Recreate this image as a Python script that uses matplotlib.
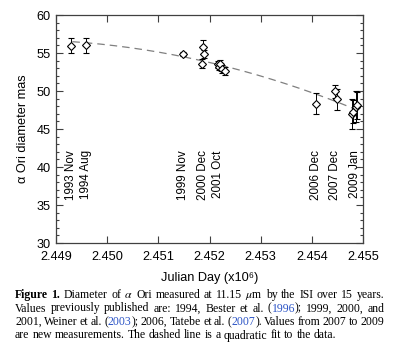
import numpy as np
import matplotlib
matplotlib.use('Agg')
import matplotlib.pyplot as plt
from matplotlib.ticker import MultipleLocator

# measured diameters (Julian day / 1e6, mas, error)
jd = [2.449287, 2.449580, 2.451486,
      2.451858, 2.451877, 2.451897,
      2.452160, 2.452190, 2.452210, 2.452250, 2.452300,
      2.454072, 2.454449, 2.454500,
      2.454781, 2.454810, 2.454866, 2.454880]
diam = [55.96, 56.00, 54.87,
        53.60, 55.75, 54.85,
        53.50, 53.20, 53.60, 52.90, 52.65,
        48.33, 49.96, 48.90,
        47.00, 47.30, 47.95, 48.10]
err = [0.95, 0.95, 0.20,
       0.60, 0.90, 0.50,
       0.50, 0.50, 0.50, 0.50, 0.50,
       1.40, 0.85, 1.40,
       2.00, 1.50, 2.00, 1.80]

# quadratic fit: d = a + b*t + c*t^2, t = (jd - 2.449)*1e3
fit_coef = [56.62, -0.339, -0.2056]
fit_range = [0.32, 5.85]

epoch_jd = [2.449287, 2.449580, 2.451486, 2.451877, 2.452170,
            2.454072, 2.454460, 2.454840]
epoch_lab = ['1993 Nov', '1994 Aug', '1999 Nov', '2000 Dec', '2001 Oct',
             '2006 Dec', '2007 Dec', '2009 Jan']

xticks = [2.449, 2.450, 2.451, 2.452, 2.453, 2.454, 2.455]

blue = '#2d55c6'
caption = [
    [[('Figure', 'bold', 'k')], [('1.', 'bold', 'k')], [('Diameter', 'normal', 'k')],
     [('of', 'normal', 'k')], [(r'$\alpha$', 'normal', 'k')], [('Ori', 'normal', 'k')],
     [('measured', 'normal', 'k')], [('at', 'normal', 'k')], [('11.15', 'normal', 'k')],
     [(r'$\mu$m', 'normal', 'k')], [('by', 'normal', 'k')], [('the', 'normal', 'k')],
     [('ISI', 'normal', 'k')], [('over', 'normal', 'k')], [('15', 'normal', 'k')],
     [('years.', 'normal', 'k')]],
    [[('Values', 'normal', 'k')], [('previously', 'normal', 'k')], [('published', 'normal', 'k')],
     [('are:', 'normal', 'k')], [('1994,', 'normal', 'k')], [('Bester', 'normal', 'k')],
     [('et', 'normal', 'k')], [('al.', 'normal', 'k')],
     [('(', 'normal', 'k'), ('1996', 'normal', blue), (');', 'normal', 'k')],
     [('1999,', 'normal', 'k')], [('2000,', 'normal', 'k')], [('and', 'normal', 'k')]],
    [[('2001,', 'normal', 'k')], [('Weiner', 'normal', 'k')], [('et', 'normal', 'k')],
     [('al.', 'normal', 'k')],
     [('(', 'normal', 'k'), ('2003', 'normal', blue), (');', 'normal', 'k')],
     [('2006,', 'normal', 'k')], [('Tatebe', 'normal', 'k')], [('et', 'normal', 'k')],
     [('al.', 'normal', 'k')],
     [('(', 'normal', 'k'), ('2007', 'normal', blue), (').', 'normal', 'k')],
     [('Values', 'normal', 'k')], [('from', 'normal', 'k')], [('2007', 'normal', 'k')],
     [('to', 'normal', 'k')], [('2009', 'normal', 'k')]],
    [[('are', 'normal', 'k')], [('new', 'normal', 'k')], [('measurements.', 'normal', 'k')],
     [('The', 'normal', 'k')], [('dashed', 'normal', 'k')], [('line', 'normal', 'k')],
     [('is', 'normal', 'k')], [('a', 'normal', 'k')], [('quadratic', 'normal', 'k')],
     [('fit', 'normal', 'k')], [('to', 'normal', 'k')], [('the', 'normal', 'k')],
     [('data.', 'normal', 'k')]],
]

plt.rcParams['font.family'] = 'Liberation Sans'
plt.rcParams['mathtext.fontset'] = 'stix'

W, H = 400, 354
fig = plt.figure(figsize=(4.0, 3.54), dpi=100)
ax = fig.add_axes([56/W, 1-243/H, (363-56)/W, (243-15)/H])

spine_col = '#404040'
ax.errorbar(jd, diam, yerr=err, fmt='D', ms=3.8, mfc='white', mec='k', mew=0.8,
            ecolor='k', elinewidth=0.7, capsize=2.0, capthick=0.7, zorder=3)

t = np.linspace(fit_range[0], fit_range[1], 200)
fit = fit_coef[0] + fit_coef[1]*t + fit_coef[2]*t**2
ax.plot(2.449 + t/1000.0, fit, ls=(0, (6, 4)), color='#808080', lw=0.9, zorder=2)

for xj, lab in zip(epoch_jd, epoch_lab):
    ax.text(xj, 42.2, lab, rotation=90, ha='center', va='top', fontsize=8.4)

ax.set_xlim(2.449, 2.455)
ax.set_ylim(30, 60)
ax.set_xticks(xticks)
ax.set_xticklabels(['%.3f' % v for v in xticks])
ax.yaxis.set_major_locator(MultipleLocator(5))
ax.yaxis.set_minor_locator(MultipleLocator(1))
ax.tick_params(which='both', direction='in', top=True, right=True, colors=spine_col,
               labelcolor='k', labelsize=9.2, width=0.8)
ax.tick_params(axis='x', which='major', length=5, pad=6)
ax.tick_params(axis='y', which='major', length=5, pad=4)
ax.tick_params(which='minor', length=2.5)
for s in ax.spines.values():
    s.set_color(spine_col)
    s.set_linewidth(0.9)

ax.set_ylabel('α Ori diameter mas', fontsize=9.2, labelpad=5)
ax.set_xlabel('Julian Day (x10⁶)', fontsize=9.2, labelpad=6)

# justified caption, placed word by word
renderer = fig.canvas.get_renderer()
left, right = 15.0, 384.0
baselines = [298.0, 311.5, 325.0, 338.5]
cap_size = 8.5
st = fig.text(0, 0, 'a a', fontsize=cap_size, fontfamily='Liberation Serif')
st2 = fig.text(0, 0, 'aa', fontsize=cap_size, fontfamily='Liberation Serif')
space_w = st.get_window_extent(renderer).width - st2.get_window_extent(renderer).width
st.remove()
st2.remove()
for li, line in enumerate(caption):
    widths = []
    words = []
    for word in line:
        parts = []
        wsum = 0.0
        for txt, wt, col in word:
            tt = fig.text(0, 0, txt, fontsize=cap_size, fontweight=wt, color=col,
                          fontfamily='Liberation Serif', va='baseline', ha='left')
            bw = tt.get_window_extent(renderer).width
            parts.append((tt, bw))
            wsum += bw
        words.append(parts)
        widths.append(wsum)
    if li < len(caption) - 1:
        gap = max((right - left - sum(widths)) / (len(words) - 1), 0.6*space_w)
    else:
        gap = space_w
    x = left
    for parts in words:
        for tt, bw in parts:
            tt.set_position((x/W, 1 - baselines[li]/H))
            x += bw
        x += gap

fig.savefig('out.png', dpi=100)
